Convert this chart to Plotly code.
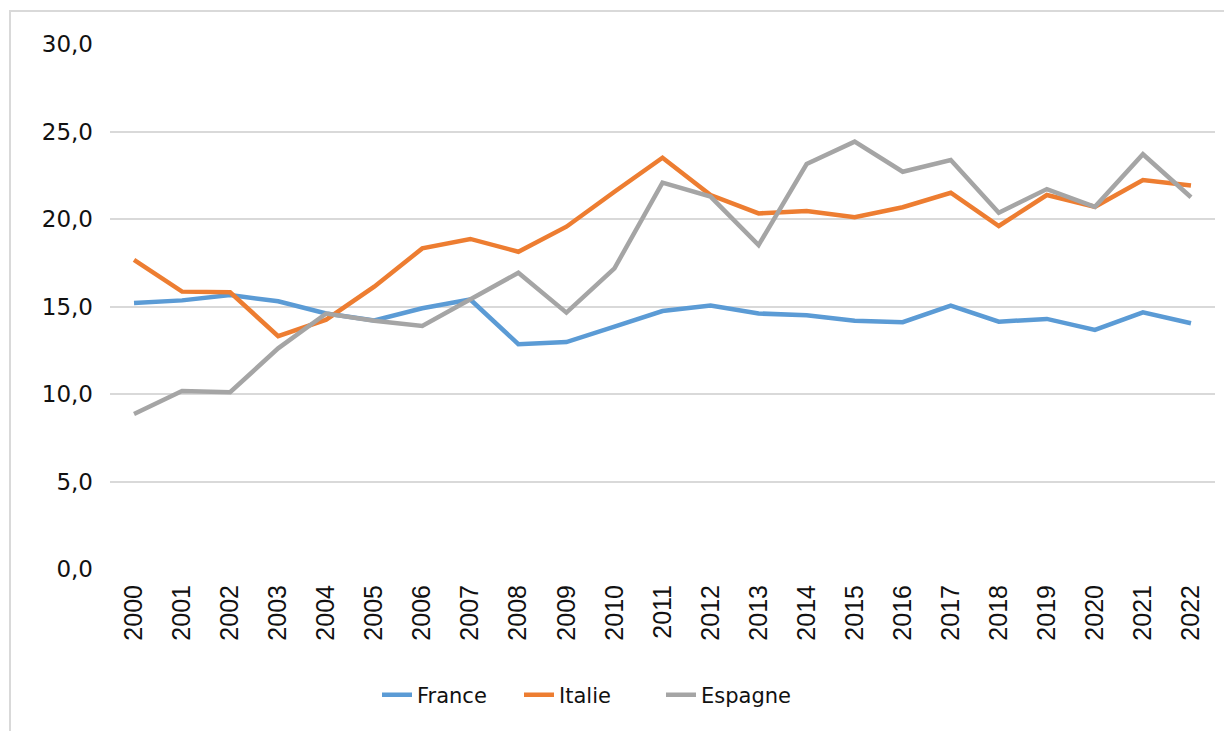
import plotly.graph_objects as go

years = [str(y) for y in range(2000, 2023)]
france = [15.2, 15.35, 15.65, 15.3, 14.6, 14.2, 14.9, 15.4, 12.85, 12.97, 13.85, 14.74,
          15.05, 14.6, 14.5, 14.19, 14.1, 15.05, 14.13, 14.29, 13.66, 14.67, 14.04]
italie = [17.66, 15.85, 15.81, 13.31, 14.25, 16.13, 18.32, 18.86, 18.13, 19.56, 21.56, 23.5,
          21.37, 20.32, 20.46, 20.1, 20.67, 21.5, 19.6, 21.37, 20.7, 22.23, 21.92]
espagne = [8.86, 10.17, 10.1, 12.61, 14.6, 14.19, 13.89, 15.41, 16.93, 14.65, 17.18, 22.08,
           21.28, 18.51, 23.14, 24.42, 22.7, 23.37, 20.36, 21.71, 20.7, 23.7, 21.24]
y_ticks = [0, 5, 10, 15, 20, 25, 30]
y_labels = ["0,0", "5,0", "10,0", "15,0", "20,0", "25,0", "30,0"]

series = [("France", france, "#5B9BD5"), ("Italie", italie, "#ED7D31"), ("Espagne", espagne, "#A5A5A5")]

fig = go.Figure()
for name, vals, col in series:
    fig.add_trace(go.Scatter(x=years, y=vals, name=name, mode="lines",
                             line=dict(color=col, width=4.5)))

# page has an 8px body margin: work in figure coordinates = screen - 8
OFF = 8
W, H = 1224, 723
L, T = 110 - OFF, 44 - OFF
R = W - (1215 - OFF)
B = H - (569 - OFF)
pw, ph = W - L - R, H - T - B

fig.update_layout(
    width=W, height=H,
    margin=dict(l=L, r=R, t=T, b=B),
    paper_bgcolor="white", plot_bgcolor="white",
    showlegend=True,
    legend=dict(orientation="h", x=(377 - OFF - L) / pw, xanchor="left",
                y=(T + ph - (695 - OFF)) / ph, yanchor="middle",
                font=dict(family="DejaVu Sans, sans-serif", size=21, color="#111"),
                entrywidth=97, entrywidthmode="pixels", tracegroupgap=0),
    xaxis=dict(type="category", range=[-0.5, len(years) - 0.5], tickangle=-90, showgrid=False,
               showline=False, zeroline=False, automargin=False,
               tickfont=dict(family="Liberation Sans, Arial, sans-serif", size=25, color="#111"),
               ticks="", ticklabelstandoff=10, fixedrange=True),
    yaxis=dict(range=[0, 30], tickvals=y_ticks, ticktext=y_labels, showgrid=True,
               gridcolor="#D9D9D9", gridwidth=1.8, zeroline=False, showline=False, automargin=False,
               tickfont=dict(family="DejaVu Sans, sans-serif", size=23, color="#111"),
               ticks="", ticklabelstandoff=16, fixedrange=True),
    shapes=[dict(type="rect", xref="paper", yref="paper",
                 x0=(10 - OFF - L) / pw, x1=(W + 20 - L) / pw,
                 y0=-(B + 20) / ph, y1=1 + (T - (11 - OFF)) / ph,
                 line=dict(color="#D9D9D9", width=2), layer="below")],
)

fig.write_html("out.html")
